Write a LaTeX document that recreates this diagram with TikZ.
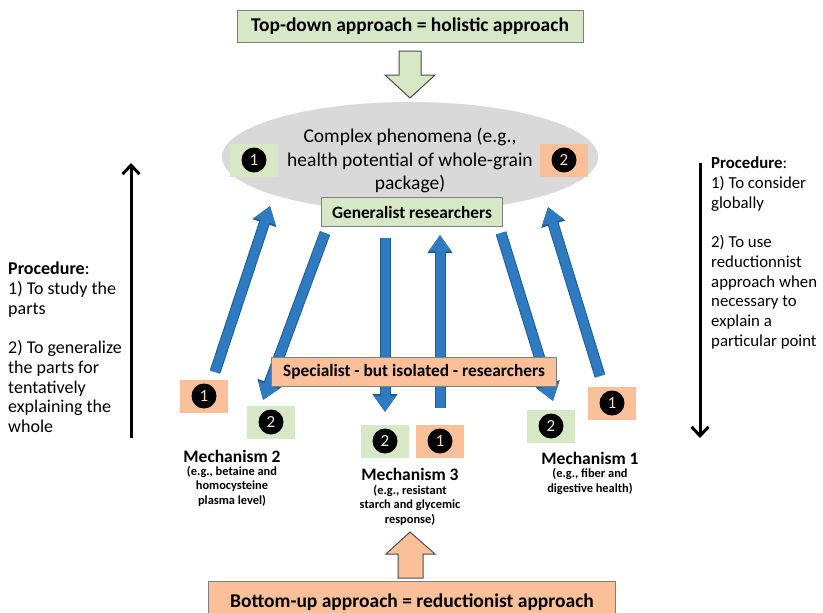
\documentclass[tikz,border=0pt]{standalone}
\usepackage{fontspec}
\setmainfont{Carlito}
\usetikzlibrary{arrows.meta,shapes.geometric,positioning}
\definecolor{lgreen}{HTML}{D7E8C6}
\definecolor{lorange}{HTML}{F9C09A}
\definecolor{ablue}{HTML}{2E7BC1}
\definecolor{egray}{HTML}{D9D9D9}
\definecolor{bgray}{HTML}{7F7F7F}

\begin{document}
\begin{tikzpicture}[x=1pt,y=-1pt,
>={Straight Barb[length=9pt,width=17pt]},
every node/.style={inner sep=0pt},
flow/.style={draw=ablue, line width=9pt, -{Triangle[width=21pt,length=16pt]},
  preaction={draw=ablue!75!black, line width=11pt, -{Triangle[width=24pt,length=18pt]}}}]
\tikzstyle{gbox} = [draw=bgray, line width=1pt, fill=lgreen, font=\bfseries\fontsize{17.3}{20}\selectfont]
\tikzstyle{obox} = [gbox, fill=lorange]
\tikzstyle{bigtext} = [font=\bfseries\fontsize{19.5}{22}\selectfont]
\tikzstyle{badge} = [minimum width=48pt, minimum height=33pt]
\tikzstyle{dot} = [circle, fill=black, minimum size=25pt, font=\fontsize{17}{17}\selectfont]
\tikzstyle{proc} = [align=left, anchor=north west, font=\fontsize{18}{19.7}\selectfont]
\tikzstyle{mech} = [font=\bfseries\fontsize{17.5}{18}\selectfont]
\tikzstyle{mechsub} = [align=center, font=\bfseries\fontsize{12.4}{14.5}\selectfont]
\tikzstyle{hollow} = [draw=black!70, line width=1pt]
\useasboundingbox (0,0) rectangle (823,613);

% the whole
\node[ellipse, fill=egray, minimum width=376pt, minimum height=110pt](phen) at (410,157){};
\node[align=center, font=\fontsize{19.5}{23.5}\selectfont](phentxt) at (410,161)
  {Complex phenomena (e.g.,\\health potential of whole-grain\\package)};
\node[gbox, bigtext, minimum width=346pt, minimum height=32pt](top) at (410,26)
  {Top-down approach = holistic approach};
\coordinate (tdarrow) at (410,51);
\draw[hollow, fill=lgreen] (tdarrow) ++(-11,0) -- ++(0,24) -- ++(-14,0) -- ++(25,23)
  -- ++(25,-23) -- ++(-14,0) -- ++(0,-24) -- cycle;

% badges
\foreach \nm/\x/\y/\c/\n in {p1/254/160/lgreen/1, p2/564/160/lorange/2,
  a1/204/396/lorange/1, b2/271/422/lgreen/2, c2/385/441/lgreen/2,
  c1/440/441/lorange/1, d2/551/426/lgreen/2, e1/612/403/lorange/1}{
	\node[badge, fill=\c](\nm) at (\x,\y){};
	\node[dot, text=\c!60!white] at (\nm){\n};
}

% blue arrows between the parts and the whole
\coordinate (as) at (215,372);  \coordinate (ae) at (270,206);
\coordinate (bs) at (325,233);  \coordinate (be) at (263,400);
\coordinate (cs) at (385,238);  \coordinate (ce) at (385,412);
\coordinate (ds) at (440,408);  \coordinate (de) at (440,235);
\coordinate (es) at (501,233);  \coordinate (ee) at (553,401);
\coordinate (fs) at (600,376);  \coordinate (fe) at (548,207);
\foreach \s/\e in {as/ae, bs/be, cs/ce, ds/de, es/ee, fs/fe}{
	\draw[flow] (\s) -- (\e);
}

\node[gbox, minimum width=181pt, minimum height=29pt](gen) at (412,212)
  {Generalist researchers};
\node[obox, minimum width=285pt, minimum height=29pt](spec) at (414,372)
  {Specialist - but isolated - researchers};

% mechanisms
\node[mech](m2) at (232,456){Mechanism 2};
\node[mechsub](m2s) at (232,486){(e.g., betaine and\\homocysteine\\plasma level)};
\node[mech](m3) at (410,474){Mechanism 3};
\node[mechsub](m3s) at (410,505){(e.g., resistant\\starch and glycemic\\response)};
\node[mech](m1) at (590,458){Mechanism 1};
\node[mechsub](m1s) at (590,481.5){(e.g., fiber and\\digestive health)};

% the parts
\coordinate (buarrow) at (410,532);
\draw[hollow, fill=lorange] (buarrow) -- ++(25,22) -- ++(-12,0) -- ++(0,24) -- ++(-25,0)
  -- ++(0,-24) -- ++(-12,0) -- cycle;
\node[obox, bigtext, minimum width=407pt, minimum height=42pt](bot) at (412,602)
  {Bottom-up approach = reductionist approach};

% procedures
\coordinate (lbot) at (131,438);
\coordinate (ltop) at (131,163);
\draw[->, line width=3pt] (lbot) -- (ltop);
\node[proc](lproc) at (8,262){\textbf{Procedure}:\\1) To study the\\parts\\[19.7pt]2) To generalize\\the parts for\\tentatively\\explaining the\\whole};
\coordinate (rtop) at (700,163);
\coordinate (rbot) at (700,438);
\draw[->, line width=3pt] (rtop) -- (rbot);
\node[proc, font=\fontsize{16.8}{19.7}\selectfont](rproc) at (711,157){\textbf{Procedure}:\\1) To consider\\globally\\[19.7pt]2) To use\\reductionnist\\approach when\\necessary to\\explain a\\particular point};
\end{tikzpicture}
\end{document}
